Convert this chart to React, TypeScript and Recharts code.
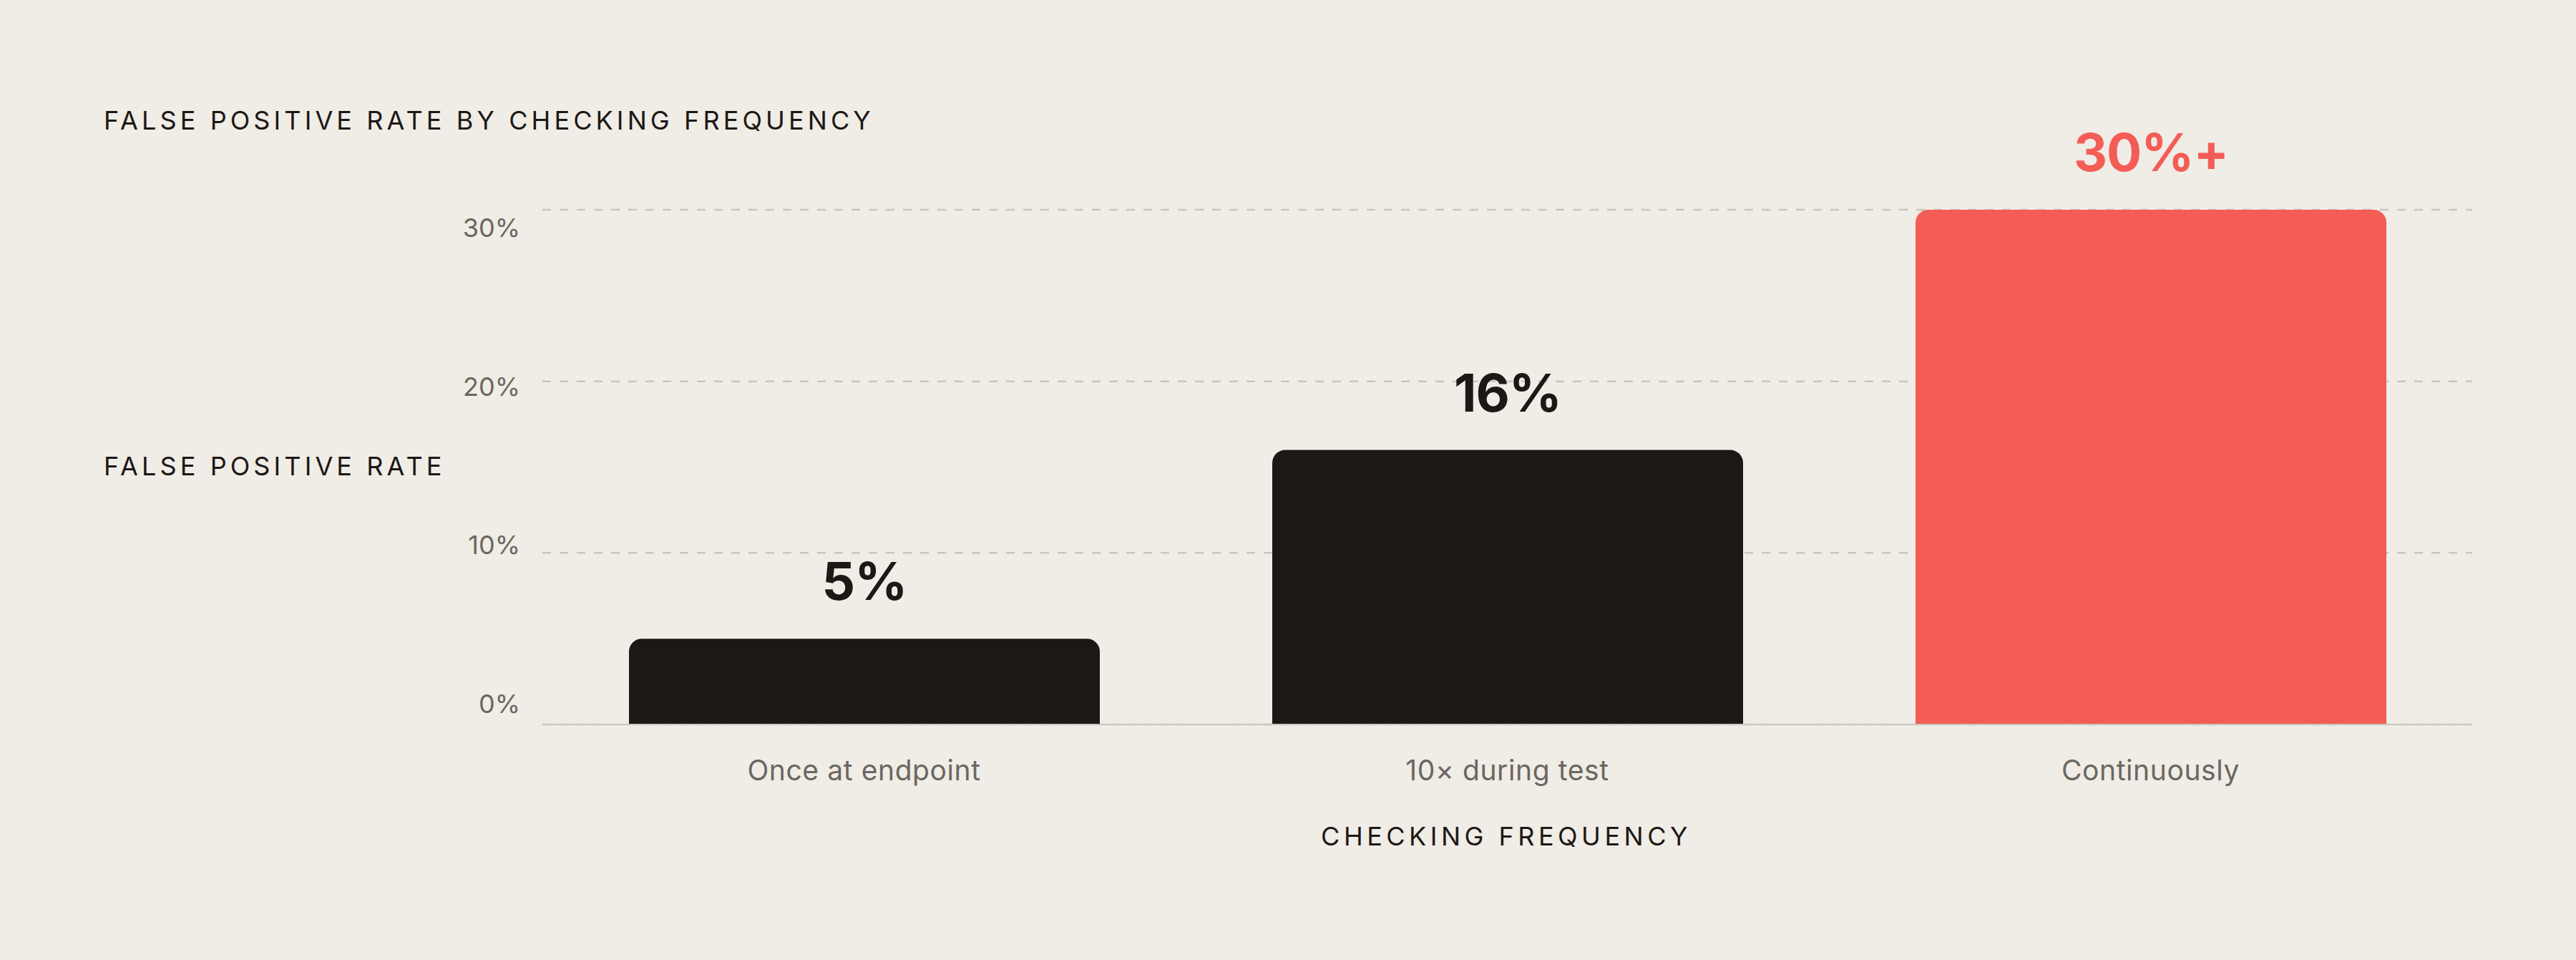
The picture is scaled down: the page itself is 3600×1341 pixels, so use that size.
import { BarChart, Bar, XAxis, YAxis, CartesianGrid, Cell, LabelList } from 'recharts';

const categories = ['Once at endpoint', '10× during test', 'Continuously'];
const rates = [5, 16, 30];
const rateLabels = ['5%', '16%', '30%+'];
const barColors = ['#1c1815', '#1c1815', '#f35d55'];
const yTicks = [0, 10, 20, 30];

const data = categories.map((name, i) => ({
  name,
  rate: rates[i],
  label: rateLabels[i],
  color: barColors[i],
}));

const BG = '#f0ece6';
const INK = '#1c1815';
const MUTED = '#6b6661';
const GRID = '#c9c5bf';
const FONT = 'Inter, "DejaVu Sans", sans-serif';

function YTick({ x, y, payload }: any) {
  // labels sit on a tighter rhythm than the gridlines
  const dy = -29 + payload.value * 1.8;
  return (
    <text x={x} y={y + dy} textAnchor="end" dominantBaseline="central" fill={MUTED} fontSize={36} fontFamily={FONT}>
      {`${payload.value}%`}
    </text>
  );
}

function XTick({ x, y, payload }: any) {
  return (
    <text x={x} y={y + 76} textAnchor="middle" fill={MUTED} fontSize={39} letterSpacing={0.6} fontFamily={FONT}>
      {payload.value}
    </text>
  );
}

function ValueLabel({ x, y, width, index }: any) {
  return (
    <text
      x={x + width / 2}
      y={y - 54}
      textAnchor="middle"
      fill={barColors[index]}
      fontSize={73}
      fontWeight={700}
      letterSpacing={-1}
      fontFamily={FONT}
    >
      {rateLabels[index]}
    </text>
  );
}

export default function App() {
  return (
    <div style={{ position: 'absolute', top: 0, left: 0, width: 3600, height: 1341, background: BG }}>
      <BarChart width={3600} height={1341} data={data} margin={{ top: 293, right: 145, bottom: 229, left: 0 }}>
        <CartesianGrid vertical={false} stroke={GRID} strokeWidth={2.5} strokeDasharray="12 12" />
        <XAxis
          dataKey="name"
          height={100}
          tickLine={false}
          tickSize={0}
          axisLine={{ stroke: GRID, strokeWidth: 2 }}
          tick={<XTick />}
          interval={0}
        />
        <YAxis
          width={758}
          domain={[0, 30]}
          ticks={yTicks}
          axisLine={false}
          tickLine={false}
          tickSize={0}
          tickMargin={31}
          tick={<YTick />}
        />
        <Bar dataKey="rate" barSize={658} radius={[18, 18, 0, 0]} isAnimationActive={false}>
          {data.map((d) => (
            <Cell key={d.name} fill={d.color} />
          ))}
          <LabelList dataKey="label" content={<ValueLabel />} />
        </Bar>
      </BarChart>
      <svg width={3600} height={1341} style={{ position: 'absolute', top: 0, left: 0, pointerEvents: 'none' }}>
        <text x={145} y={181} fill={INK} fontSize={36} fontFamily={FONT} letterSpacing={5.1}>
          FALSE POSITIVE RATE BY CHECKING FREQUENCY
        </text>
        <text x={145} y={664} fill={INK} fontSize={36} fontFamily={FONT} letterSpacing={5.1}>
          FALSE POSITIVE RATE
        </text>
        <text x={2105} y={1181} textAnchor="middle" fill={INK} fontSize={36} fontFamily={FONT} letterSpacing={5.5}>
          CHECKING FREQUENCY
        </text>
      </svg>
    </div>
  );
}
